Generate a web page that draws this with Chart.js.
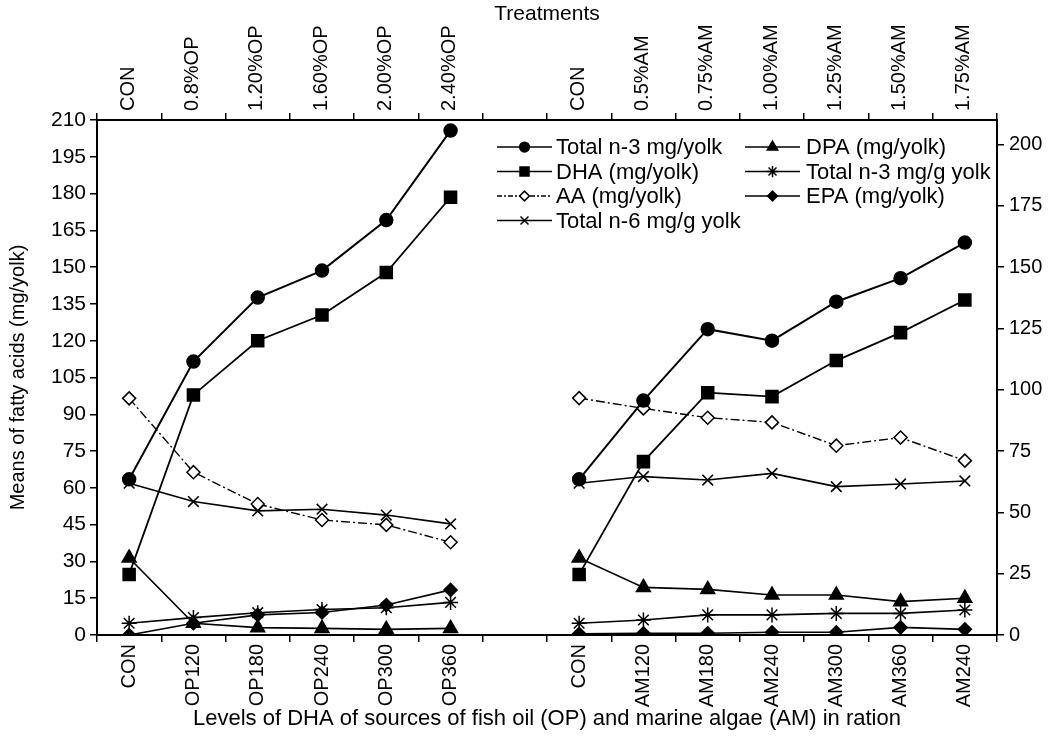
<!DOCTYPE html>
<html><head><meta charset="utf-8">
<script src="https://cdn.jsdelivr.net/npm/chart.js@4.4.0/dist/chart.umd.min.js"></script>
<style>html,body{margin:0;padding:0;background:#fff}#wrap{width:1050px;height:745px;position:relative}</style>
</head><body><div id="wrap"><canvas id="c"></canvas></div>
<script>
// ---- data ----
const bottomLabels = ['CON','OP120','OP180','OP240','OP300','OP360','','CON','AM120','AM180','AM240','AM300','AM360','AM240'];
const topLabels = ['CON','0.8%OP','1.20%OP','1.60%OP','2.00%OP','2.40%OP','','CON','0.5%AM','0.75%AM','1.00%AM','1.25%AM','1.50%AM','1.75%AM'];
const leftTicks = [0,15,30,45,60,75,90,105,120,135,150,165,180,195,210];
const rightTicks = [0,25,50,75,100,125,150,175,200];

const totalN3_OP = [63.5,111.5,137.6,148.6,169.2,205.7];
const totalN3_AM = [63.5,95.6,124.7,120.0,135.9,145.5,160.0];
const dha_OP = [24.7,97.9,120.0,130.5,147.8,178.5];
const dha_AM = [24.7,70.7,98.8,97.2,111.9,123.3,136.6];
const aa_OP = [96.5,66.4,53.4,46.9,44.9,37.8];
const aa_AM = [96.6,92.4,88.6,86.7,77.2,80.5,71.1];
const n6_OP = [61.9,54.4,50.6,51.3,48.9,45.3];
const n6_AM = [61.9,64.6,63.2,65.9,60.5,61.6,62.8];
const dpa_OP = [31.4,4.8,3.0,2.7,2.3,2.7];
const dpa_AM = [31.4,19.4,18.6,16.3,16.3,13.6,15.0];
const n3g_OP = [4.8,7.1,9.1,10.4,11.1,13.3];
const n3g_AM = [4.8,6.1,8.2,8.2,8.8,8.8,10.2];
const epa_OP = [0,4.8,8.2,9.2,12.2,18.4];
const epa_AM = [0.5,0.7,0.7,1.1,1.1,3.1,2.3];

const seriesNames = ['Total n-3 mg/yolk','DHA (mg/yolk)','AA (mg/yolk)','Total n-6 mg/g yolk','DPA (mg/yolk)','Total n-3 mg/g yolk','EPA (mg/yolk)'];

function join(op, am){ return [...op, null, ...am]; }

const FONT = "'Liberation Sans', Arial, sans-serif";
const BLACK = '#000';

function ds(label, data, style, radius, opts){
  return Object.assign({
    label, data, borderColor: BLACK, backgroundColor: BLACK,
    pointStyle: style, pointRadius: radius, pointHoverRadius: radius,
    pointBorderColor: BLACK, pointBackgroundColor: BLACK, pointBorderWidth: 1.5,
    borderWidth: 1.6, tension: 0, spanGaps: false, fill: false
  }, opts || {});
}

const datasets = [
  ds(seriesNames[0], join(totalN3_OP, totalN3_AM), 'circle', 6.5, {borderWidth: 2}),
  ds(seriesNames[1], join(dha_OP, dha_AM), 'rect', 8.5, {borderWidth: 1.8}),
  ds(seriesNames[2], join(aa_OP, aa_AM), 'rectRot', 6.5, {pointBackgroundColor:'#fff', borderDash:[9,3,2,3], borderWidth:1.4}),
  ds(seriesNames[3], join(n6_OP, n6_AM), 'crossRot', 7.5, {pointBorderWidth:1.6}),
  ds(seriesNames[4], join(dpa_OP, dpa_AM), 'triangle', 8, {}),
  ds(seriesNames[5], join(n3g_OP, n3g_AM), 'star', 7.5, {pointBorderWidth:1.5}),
  ds(seriesNames[6], join(epa_OP, epa_AM), 'rectRot', 6.5, {})
];

const legendPlugin = {
  id: 'innerLegend',
  afterDatasetsDraw(chart){
    const ctx = chart.ctx;
    const ca = chart.chartArea;
    const cols = [{x0: ca.left + 400, x1: ca.left + 455, tx: ca.left + 459},
                  {x0: ca.left + 648, x1: ca.left + 703, tx: ca.left + 709}];
    const rowY0 = ca.top + 27, rowH = 24.5;
    chart.data.datasets.forEach((d, i) => {
      const c = i < 4 ? cols[0] : cols[1];
      const r = i < 4 ? i : i - 4;
      const y = rowY0 + r * rowH;
      ctx.save();
      ctx.strokeStyle = BLACK;
      ctx.lineWidth = 1.5;
      ctx.setLineDash(d.borderDash ? [5,2,2,2] : []);
      ctx.beginPath(); ctx.moveTo(c.x0, y); ctx.lineTo(c.x1, y); ctx.stroke();
      ctx.setLineDash([]);
      ctx.fillStyle = d.pointBackgroundColor;
      ctx.strokeStyle = BLACK;
      Chart.helpers.drawPoint(ctx, {pointStyle: d.pointStyle, rotation: 0, radius: d.pointRadius * 0.75, borderWidth: 1.3}, (c.x0 + c.x1) / 2, y);
      ctx.fillStyle = BLACK;
      ctx.font = "22px " + FONT;
      ctx.textBaseline = 'middle';
      ctx.textAlign = 'left';
      ctx.fillText(d.label, c.tx, y + 1);
      ctx.restore();
    });
  }
};

const gridCfg = {drawOnChartArea:false, drawTicks:true, tickLength:7, color:BLACK, lineWidth:1.5};
const borderCfg = {color:BLACK, width:2};

new Chart(document.getElementById('c'), {
  type: 'line',
  data: { labels: bottomLabels, datasets },
  plugins: [legendPlugin],
  options: {
    responsive: true, maintainAspectRatio: false, animation: false,
    layout: { padding: 0 },
    plugins: { legend: {display:false}, tooltip: {enabled:false} },
    scales: {
      x: {
        type: 'category', position: 'bottom', offset: true,
        grid: Object.assign({offset:true}, gridCfg), border: borderCfg,
        ticks: {autoSkip:false, minRotation:90, maxRotation:90, color:BLACK, font:{family:FONT, size:20}, padding:2},
        title: {display:true, text:'Levels of DHA of sources of fish oil (OP) and marine algae (AM) in ration', color:BLACK, font:{family:FONT, size:22}, padding:{top:0, bottom:13}},
        afterFit: s => { s.height = 110; }
      },
      x2: {
        type: 'category', position: 'top', offset: true, labels: topLabels,
        grid: Object.assign({offset:true}, gridCfg), border: borderCfg,
        ticks: {autoSkip:false, minRotation:90, maxRotation:90, color:BLACK, font:{family:FONT, size:20}, padding:2, labelOffset:23},
        title: {display:true, text:'Treatments', color:BLACK, font:{family:FONT, size:21}, padding:{top:2, bottom:0}},
        afterFit: s => { s.height = 120; }
      },
      y: {
        type: 'linear', position: 'left', min: 0, max: 210,
        grid: gridCfg, border: borderCfg,
        afterBuildTicks: s => { s.ticks = leftTicks.map(v => ({value: v})); },
        ticks: {color:BLACK, font:{family:FONT, size:21}, padding:4},
        title: {display:true, text:'Means of fatty acids (mg/yolk)', color:BLACK, font:{family:FONT, size:20}, padding:{top:6, bottom:0}},
        afterFit: s => { s.width = 97; }
      },
      y2: {
        type: 'linear', position: 'right', min: 0, max: 210,
        grid: gridCfg, border: borderCfg,
        afterBuildTicks: s => { s.ticks = rightTicks.map(v => ({value: v})); },
        ticks: {color:BLACK, font:{family:FONT, size:20}, padding:5},
        afterFit: s => { s.width = 53; }
      }
    }
  }
});
</script>
</body></html>
